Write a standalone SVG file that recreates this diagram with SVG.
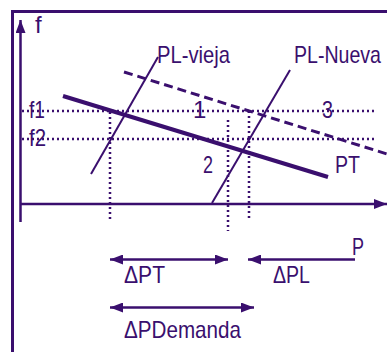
<svg xmlns="http://www.w3.org/2000/svg" width="387" height="352" viewBox="0 0 387 352">
<defs>
<style>
.ln{stroke:#3a0f6e;fill:none}
.dot{stroke:#3a0f6e;stroke-width:2.5;stroke-dasharray:2 3;fill:none}
.t{font-family:"Liberation Sans",Arial,sans-serif;font-size:24px;fill:#3a0f6e}
</style>
<marker id="ah" markerWidth="13" markerHeight="10" refX="13" refY="5" orient="auto-start-reverse" markerUnits="userSpaceOnUse">
<path d="M0,0 L13,5 L0,10 Z" fill="#3a0f6e"/>
</marker>
</defs>
<rect width="387" height="352" fill="#ffffff"/>
<g id="frame">
<polyline class="ln" stroke-width="3" points="12.5,352 12.5,11.5 387,11.5"/>
</g>
<g id="axes">
<line class="ln" stroke-width="2.5" x1="20.5" y1="222" x2="20.5" y2="20" marker-end="url(#ah)"/>
<line class="ln" stroke-width="2.5" x1="20.5" y1="204" x2="387" y2="204" marker-end="url(#ah)"/>
<text class="t" x="35" y="33" font-size="22">f</text>
</g>
<g id="connectors">
<line class="dot" x1="22" y1="111" x2="377" y2="111"/>
<line class="dot" x1="22" y1="139" x2="377" y2="139"/>
<line class="dot" x1="110" y1="112" x2="110" y2="220"/>
<line class="dot" x1="228" y1="120" x2="228" y2="231"/>
<line class="dot" x1="249" y1="111" x2="249" y2="220"/>
<line class="ln" stroke-width="3" stroke-dasharray="9 5" x1="124" y1="72" x2="387" y2="154"/>
<line class="ln" stroke-width="4" x1="63" y1="96" x2="328" y2="177"/>
<line class="ln" stroke-width="2" x1="91" y1="174" x2="158" y2="57"/>
<line class="ln" stroke-width="2" x1="212" y1="203" x2="290" y2="70"/>
<line class="ln" stroke-width="2.5" x1="110" y1="259.5" x2="228" y2="259.5" marker-start="url(#ah)" marker-end="url(#ah)"/>
<line class="ln" stroke-width="2.5" x1="355" y1="259.5" x2="248" y2="259.5" marker-end="url(#ah)"/>
<line class="ln" stroke-width="2.5" x1="110" y1="307.5" x2="254" y2="307.5" marker-start="url(#ah)" marker-end="url(#ah)"/>
</g>
<g id="labels">
<text class="t" x="29" y="118" textLength="16" lengthAdjust="spacingAndGlyphs">f1</text>
<text class="t" x="29" y="146" textLength="17" lengthAdjust="spacingAndGlyphs">f2</text>
<text class="t" x="193" y="118">1</text>
<text class="t" x="322" y="118" textLength="11" lengthAdjust="spacingAndGlyphs">3</text>
<text class="t" x="203" y="173" textLength="10" lengthAdjust="spacingAndGlyphs">2</text>
<text class="t" x="335" y="173" textLength="25" lengthAdjust="spacingAndGlyphs">PT</text>
<text class="t" x="157" y="63" textLength="73" lengthAdjust="spacingAndGlyphs">PL-vieja</text>
<text class="t" transform="translate(294,63) scale(0.815,1)">PL-Nueva</text>
<text class="t" x="352" y="255" textLength="12" lengthAdjust="spacingAndGlyphs">P</text>
<text class="t" x="124" y="283" textLength="41" lengthAdjust="spacingAndGlyphs">ΔPT</text>
<text class="t" x="273" y="283" textLength="37" lengthAdjust="spacingAndGlyphs">ΔPL</text>
<text class="t" x="124" y="338" textLength="117" lengthAdjust="spacingAndGlyphs">ΔPDemanda</text>
</g>
</svg>
